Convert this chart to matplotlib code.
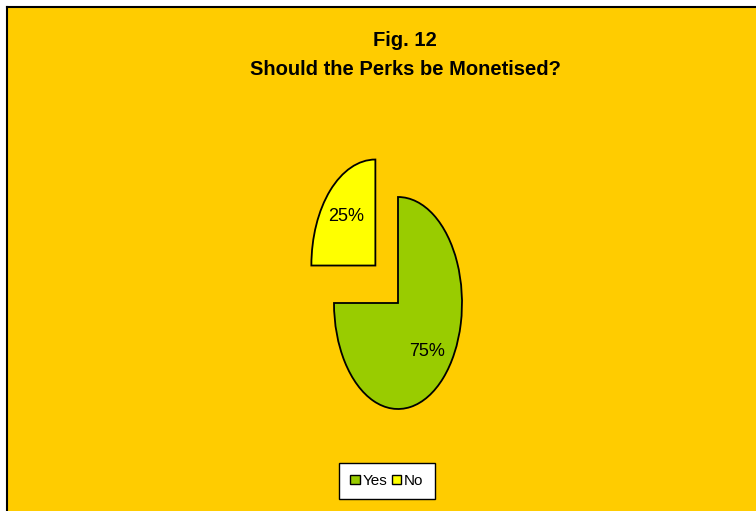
#!/usr/bin/env python3
"""Fig. 12 pie: should the perks be monetised?"""

import matplotlib
matplotlib.use("Agg")
from matplotlib import pyplot as plt
from matplotlib.patches import Rectangle, Patch
from matplotlib.lines import Line2D

labels = ["Yes", "No"]
shares = [75, 25]
colors = ["#99CC00", "#FFFF00"]
explode = [0.0, 0.5]

TITLE = "Fig. 12\nShould the Perks be Monetised?"
BG = "#FFCC00"
NARROW = ["Liberation Sans Narrow", "Liberation Sans", "DejaVu Sans"]

W, H = 756, 511
fig = plt.figure(figsize=(W / 100, H / 100), dpi=100)
fig.patch.set_facecolor("white")

# chart area background with black left/top edge (picture is cropped right/bottom)
fig.patches.append(Rectangle((6 / W, 0), 1, 1 - 8 / H, transform=fig.transFigure,
                             facecolor=BG, edgecolor="none", zorder=-5))
fig.add_artist(Line2D([6.5 / W, 6.5 / W], [0, 1 - 7.5 / H], transform=fig.transFigure,
                      color="black", lw=1.5, zorder=-4))
fig.add_artist(Line2D([6.5 / W, 1], [1 - 7.5 / H, 1 - 7.5 / H], transform=fig.transFigure,
                      color="black", lw=1.5, zorder=-4))

fig.text(405 / W, 1 - 55 / H, TITLE, ha="center", va="center", fontsize=14.5,
         fontweight="bold", family=["Liberation Sans", "DejaVu Sans"], linespacing=1.62)

# pie centre at (398, 303) px, radii 64 x 106 px -> squashed ellipse
cx, cy, rx, ry, lim = 398, 303, 64, 106, 1.6
ax = fig.add_axes([(cx - rx * lim) / W, (H - cy - ry * lim) / H,
                   2 * rx * lim / W, 2 * ry * lim / H])
ax.set_facecolor("none")
ax.pie(shares, colors=colors, explode=explode, startangle=90, counterclock=False,
       autopct="%1.0f%%", pctdistance=0.65,
       wedgeprops={"edgecolor": "black", "linewidth": 1.3},
       textprops={"fontsize": 13, "family": NARROW, "color": "black"})
ax.set_xlim(-lim, lim)
ax.set_ylim(-lim, lim)
ax.set_aspect("auto")
ax.axis("off")

handles = [Patch(facecolor=c, edgecolor="black", label=l) for c, l in zip(colors, labels)]
leg = fig.legend(handles=handles, loc="center", bbox_to_anchor=(387 / W, 1 - 481 / H),
                 ncol=2, frameon=True, fancybox=False, framealpha=1.0,
                 handlelength=0.6, handleheight=0.6,
                 handletextpad=0.2, columnspacing=0.3, borderpad=0.75,
                 prop={"family": NARROW, "size": 11})
leg.get_frame().set_edgecolor("black")
leg.get_frame().set_facecolor("white")
leg.get_frame().set_linewidth(1.0)

fig.savefig("out.png", dpi=100, facecolor=fig.get_facecolor())
